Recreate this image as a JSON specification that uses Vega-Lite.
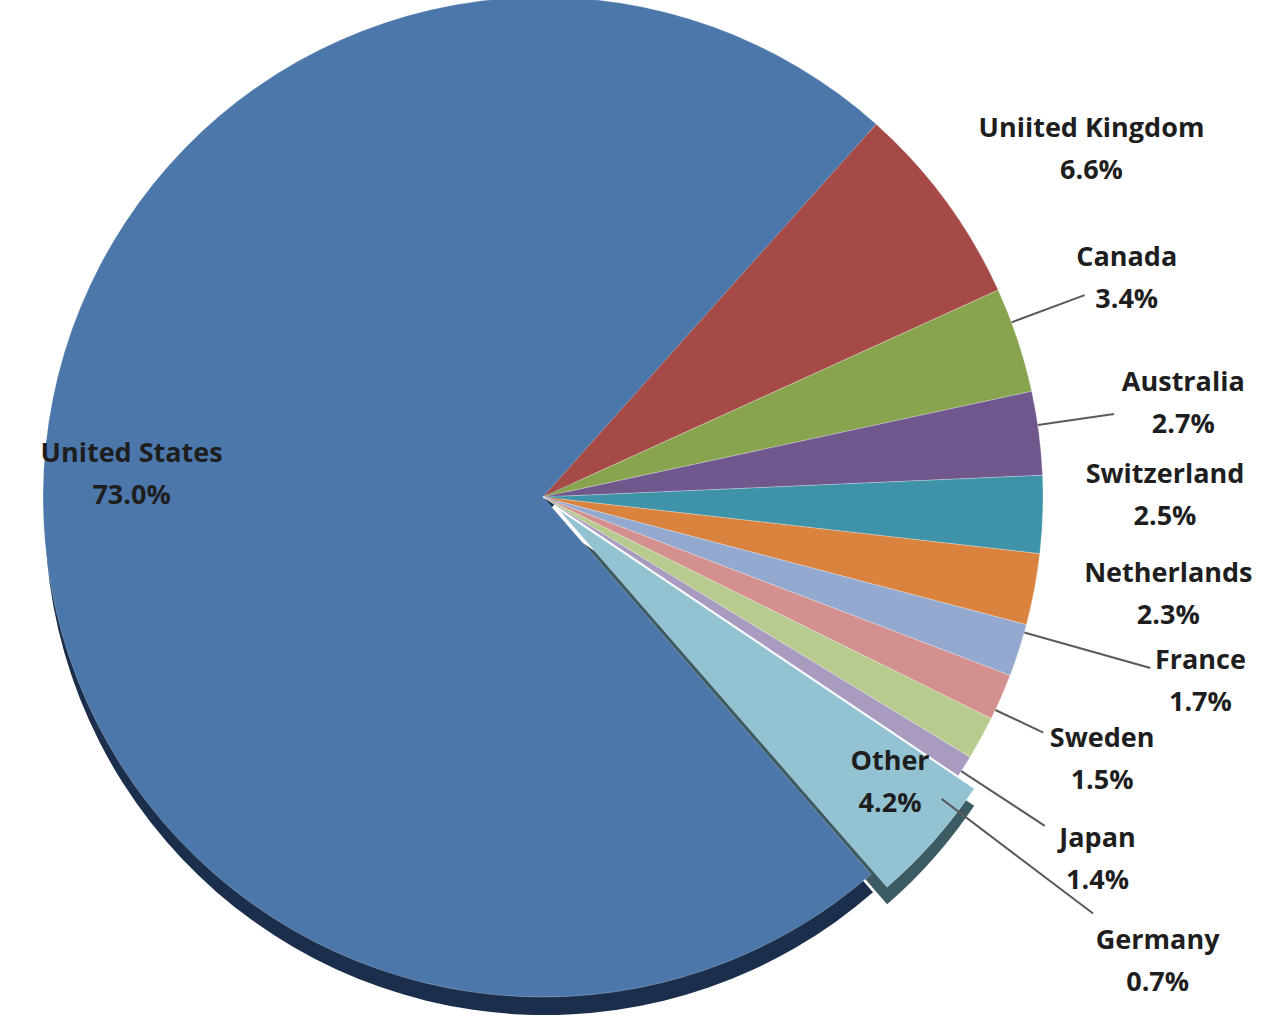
{
  "$schema": "https://vega.github.io/schema/vega-lite/v6.json",
  "width": 1086,
  "height": 994,
  "autosize": {"type": "none"},
  "padding": {"left": 0, "top": 0, "right": 188, "bottom": 22},
  "background": "white",
  "config": {"view": {"stroke": null}},
  "data": {
    "values": [
      {"country": "United States", "pct": 73.0, "rank": 1},
      {"country": "Uniited Kingdom", "pct": 6.6, "rank": 2},
      {"country": "Canada", "pct": 3.4, "rank": 3},
      {"country": "Australia", "pct": 2.7, "rank": 4},
      {"country": "Switzerland", "pct": 2.5, "rank": 5},
      {"country": "Netherlands", "pct": 2.3, "rank": 6},
      {"country": "France", "pct": 1.7, "rank": 7},
      {"country": "Sweden", "pct": 1.5, "rank": 8},
      {"country": "Japan", "pct": 1.4, "rank": 9},
      {"country": "Germany", "pct": 0.7, "rank": 10},
      {"country": "Other", "pct": 4.2, "rank": 11}
    ]
  },
  "transform": [
    {"calculate": "datum.country + '|' + format(datum.pct, '.1f') + '%'", "as": "label"}
  ],
  "encoding": {
    "theta": {"field": "pct", "type": "quantitative", "stack": true, "scale": {"range": [2.426, 8.709]}},
    "order": {"field": "rank", "type": "quantitative", "sort": "ascending"}
  },
  "layer": [
    {
      "mark": {
        "type": "arc",
        "outerRadius": 500,
        "x": {"expr": "width/2 + (datum.rank == 11 ? 16 : 2)"},
        "y": {"expr": "height/2 + (datum.rank == 11 ? 30 : 18)"},
        "fill": {"expr": "datum.rank == 11 ? '#3D5B62' : '#1B2F4D'"}
      },
      "encoding": {
        "opacity": {"condition": {"test": "datum.rank == 1 || datum.rank == 11", "value": 1}, "value": 0}
      }
    },
    {
      "mark": {
        "type": "arc",
        "outerRadius": 500,
        "x": {"expr": "width/2 + (datum.rank == 11 ? 16 : 0)"},
        "y": {"expr": "height/2 + (datum.rank == 11 ? 13 : 0)"},
        "stroke": "#ffffff",
        "strokeOpacity": 0.25,
        "strokeWidth": 1
      },
      "encoding": {
        "color": {
          "field": "country",
          "type": "nominal",
          "legend": null,
          "scale": {
            "domain": ["United States", "Uniited Kingdom", "Canada", "Australia", "Switzerland", "Netherlands", "France", "Sweden", "Japan", "Germany", "Other"],
            "range": ["#4B77AB", "#A64A47", "#88A44F", "#70588E", "#3F93A8", "#D9833F", "#93A9CF", "#D4908E", "#B7CB8F", "#A99BC0", "#93C3D3"]
          }
        }
      }
    },
    {
      "mark": {
        "type": "arc",
        "innerRadius": 500,
        "outerRadius": {"expr": "[500,500,578,577,500,500,631,553,600,690,500][datum.rank - 1]"},
        "thetaOffset": {"expr": "[0.047,0.07,-0.037,-0.016,-0.037,-0.03,-0.037,0.028,0.077,0.079,-0.033][datum.rank - 1]"},
        "padAngle": 1,
        "fill": null,
        "stroke": "#5A5A5A",
        "strokeWidth": 2
      },
      "encoding": {
        "opacity": {"condition": {"test": "indexof([3,4,7,8,9,10], datum.rank) >= 0", "value": 1}, "value": 0}
      }
    },
    {
      "mark": {
        "type": "text",
        "radius": {"expr": "[412,649,623,647,622,633,683,618,663,771,450][datum.rank - 1]"},
        "thetaOffset": {"expr": "[0.047,0.07,-0.037,-0.016,-0.037,-0.03,-0.037,0.028,0.077,0.079,-0.033][datum.rank - 1]"},
        "dy": -21,
        "font": "Open Sans",
        "fontWeight": "bold",
        "fontSize": 27,
        "lineHeight": 42,
        "lineBreak": "|",
        "align": "center",
        "baseline": "middle",
        "color": "#1E1E1E"
      },
      "encoding": {
        "text": {"field": "label", "type": "nominal"}
      }
    }
  ]
}
